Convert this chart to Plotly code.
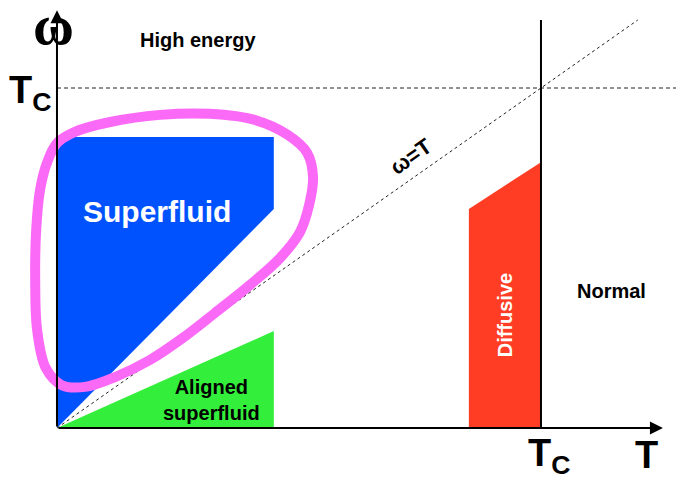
import plotly.graph_objects as go

# ---- schematic data (T in units of Tc, omega in units of Tc) ----
superfluid_T = [0.0, 0.448, 0.448, 0.0, 0.0]
superfluid_w = [0.856, 0.856, 0.644, 0.0, 0.856]

aligned_T = [0.0, 0.448, 0.448, 0.0]
aligned_w = [0.0, 0.285, 0.0, 0.0]

diffusive_T = [0.851, 0.851, 1.0, 1.0, 0.851]
diffusive_w = [0.0, 0.644, 0.782, 0.0, 0.0]

loop_T = [0.0, 0.037, 0.110, 0.213, 0.316, 0.409, 0.477, 0.517, 0.529, 0.521,
          0.502, 0.461, 0.399, 0.326, 0.260, 0.192, 0.120, 0.058, 0.010, -0.023,
          -0.041, -0.045, -0.043, -0.035, -0.021, 0.0]
loop_w = [0.838, 0.871, 0.900, 0.921, 0.924, 0.906, 0.862, 0.809, 0.738, 0.656,
          0.576, 0.500, 0.421, 0.338, 0.265, 0.200, 0.150, 0.121, 0.126, 0.176,
          0.288, 0.435, 0.582, 0.700, 0.779, 0.838]

diag_T = [0.0, 1.2]
diag_w = [0.0, 1.2]
tc_line_T = [0.0, 1.293]
tc_line_w = [1.0, 1.0]
tc_vert_T = [1.0, 1.0]
tc_vert_w = [0.0, 1.2]

labels = ["High energy", "Superfluid", "Aligned<br>superfluid", "Diffusive", "Normal", "ω=T"]
label_T = [0.291, 0.207, 0.320, 0.926, 1.145, 0.731]
label_w = [1.141, 0.638, 0.082, 0.332, 0.403, 0.800]

BLUE = "#0052FF"
GREEN = "#33EE3A"
RED = "#FF3D24"
PINK = "#FB6AF7"

fig = go.Figure()

fig.add_trace(go.Scatter(x=aligned_T, y=aligned_w, fill="toself", fillcolor=GREEN,
                         line=dict(width=0, color=GREEN), mode="lines", hoverinfo="skip"))
fig.add_trace(go.Scatter(x=superfluid_T, y=superfluid_w, fill="toself", fillcolor=BLUE,
                         line=dict(width=0, color=BLUE), mode="lines", hoverinfo="skip"))
fig.add_trace(go.Scatter(x=diffusive_T, y=diffusive_w, fill="toself", fillcolor=RED,
                         line=dict(width=0, color=RED), mode="lines", hoverinfo="skip"))

# dashed guide lines
fig.add_trace(go.Scatter(x=diag_T, y=diag_w, mode="lines",
                         line=dict(color="#222", width=1, dash="3px,3px"), hoverinfo="skip"))
fig.add_trace(go.Scatter(x=tc_line_T, y=tc_line_w, mode="lines",
                         line=dict(color="#222", width=1, dash="4px,3px"), hoverinfo="skip"))
# Tc vertical
fig.add_trace(go.Scatter(x=tc_vert_T, y=tc_vert_w, mode="lines",
                         line=dict(color="black", width=2), hoverinfo="skip"))

# pink loop
fig.add_trace(go.Scatter(x=loop_T, y=loop_w, mode="lines",
                         line=dict(color=PINK, width=10, shape="spline", smoothing=1.0),
                         hoverinfo="skip"))

bold = dict(family="Liberation Sans, Arial, sans-serif", weight="bold")

# axes with arrows
fig.add_annotation(x=1.252, y=0, ax=0, ay=0, xref="x", yref="y", axref="x", ayref="y",
                   showarrow=True, arrowhead=2, arrowsize=1.3, arrowwidth=2,
                   arrowcolor="black", text="")
fig.add_annotation(x=0, y=1.229, ax=0, ay=0, xref="x", yref="y", axref="x", ayref="y",
                   showarrow=True, arrowhead=2, arrowsize=1.3, arrowwidth=2,
                   arrowcolor="black", text="")

colors = ["black", "white", "black", "white", "black", "black"]
sizes = [20, 30, 20, 20, 20, 22]
angles = [0, 0, 0, -90, 0, -35]
for txt, xx, yy, c, s, a in zip(labels, label_T, label_w, colors, sizes, angles):
    fig.add_annotation(x=xx, y=yy, text=txt, showarrow=False, textangle=a,
                       font=dict(size=s, color=c, **bold))

# axis symbols
fig.add_annotation(x=-0.008, y=1.185, text="ω", showarrow=False,
                   font=dict(size=56, color="black", family="Liberation Serif, Times New Roman, serif",
                             weight="bold"))
fig.add_annotation(x=-0.056, y=0.985, text="T<sub>C</sub>", showarrow=False,
                   font=dict(size=38, color="black", **bold))
fig.add_annotation(x=1.017, y=-0.082, text="T<sub>C</sub>", showarrow=False,
                   font=dict(size=38, color="black", **bold))
fig.add_annotation(x=1.217, y=-0.079, text="T", showarrow=False,
                   font=dict(size=38, color="black", **bold))

# page has an 8px body margin, so the figure is drawn 8px in from the top-left
fig.update_layout(
    width=676, height=470,
    margin=dict(l=0, r=0, t=0, b=0),
    paper_bgcolor="white", plot_bgcolor="white",
    showlegend=False,
    xaxis=dict(range=[-0.1012, 1.2955], visible=False, fixedrange=True),
    yaxis=dict(range=[-0.147, 1.2353], visible=False, fixedrange=True),
)

fig.write_html("out.html")
